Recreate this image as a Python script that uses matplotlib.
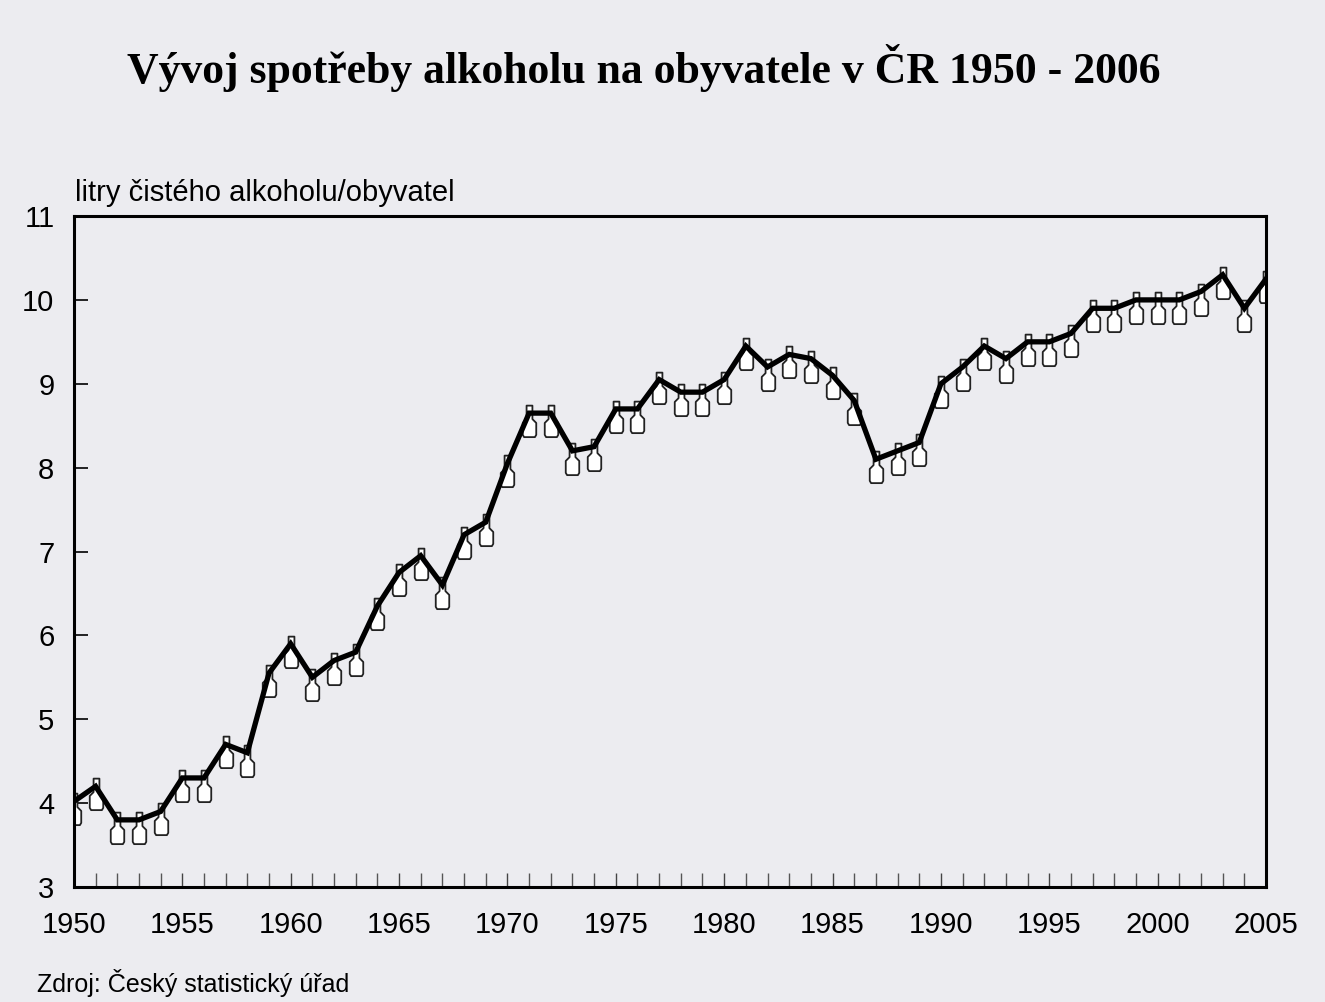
import matplotlib
matplotlib.use("Agg")
import matplotlib.pyplot as plt
from matplotlib.path import Path
import numpy as np

years = list(range(1950, 2006))
consumption = [4.02, 4.2, 3.8, 3.8, 3.9, 4.3, 4.3, 4.7, 4.6, 5.55,
               5.9, 5.5, 5.7, 5.8, 6.35, 6.75, 6.95, 6.6, 7.2, 7.35,
               8.05, 8.65, 8.65, 8.2, 8.25, 8.7, 8.7, 9.05, 8.9, 8.9,
               9.05, 9.45, 9.2, 9.35, 9.3, 9.1, 8.8, 8.1, 8.2, 8.3,
               9.0, 9.2, 9.45, 9.3, 9.5, 9.5, 9.6, 9.9, 9.9, 10.0,
               10.0, 10.0, 10.1, 10.3, 9.9, 10.25]
xticks = [1950, 1955, 1960, 1965, 1970, 1975, 1980, 1985, 1990, 1995, 2000, 2005]
yticks = [3, 4, 5, 6, 7, 8, 9, 10, 11]

title = "Vývoj spotřeby alkoholu na obyvatele v ČR 1950 - 2006"
unit_label = "litry čistého alkoholu/obyvatel"
source = "Zdroj: Český statistický úřad"

bg = "#ececf0"
fig = plt.figure(figsize=(13.25, 10.02), dpi=100, facecolor=bg)
ax = fig.add_axes([0.0558, 0.1148, 0.8997, 0.6696], facecolor=bg)

# bottle-shaped marker: cap a little above the vertex, body below
verts = [(-0.13, 0.35), (0.13, 0.35), (0.13, -0.25), (0.3, -0.42), (0.3, -0.95),
         (0.24, -1.05), (-0.24, -1.05), (-0.3, -0.95), (-0.3, -0.42),
         (-0.13, -0.25), (-0.13, 0.35)]
codes = [Path.MOVETO] + [Path.LINETO] * (len(verts) - 2) + [Path.CLOSEPOLY]
bottle = Path(verts, codes)

ax.plot(years, consumption, linestyle="none", marker=bottle, markersize=34,
        markerfacecolor="white", markeredgecolor="#222222", markeredgewidth=1.3,
        zorder=2)
ax.plot(years, consumption, color="black", linewidth=3.8, zorder=3,
        solid_joinstyle="miter")

ax.set_xlim(1950, 2005)
ax.set_ylim(3, 11)
ax.set_xticks(xticks)
ax.set_xticks(years, minor=True)
ax.set_yticks(yticks)

for s in ax.spines.values():
    s.set_linewidth(2.2)
    s.set_color("black")

ax.tick_params(axis="x", which="major", direction="in", length=10, width=1.0,
               color="#444444", pad=17, labelsize=21)
ax.tick_params(axis="x", which="minor", direction="in", length=10, width=1.0,
               color="#555555")
ax.tick_params(axis="y", which="major", direction="in", length=10, width=1.2,
               pad=14, labelsize=21)
for lab in ax.get_xticklabels() + ax.get_yticklabels():
    lab.set_fontfamily("Liberation Sans")

fig.text(0.486, 0.932, title, ha="center", va="center",
         fontfamily="Liberation Serif", fontweight="bold", fontsize=31.5)
fig.text(0.0566, 0.807, unit_label, ha="left", va="center",
         fontfamily="Liberation Sans", fontsize=21)
fig.text(0.028, 0.019, source, ha="left", va="center",
         fontfamily="Liberation Sans", fontsize=18)

fig.savefig("out.png", dpi=100, facecolor=bg)
